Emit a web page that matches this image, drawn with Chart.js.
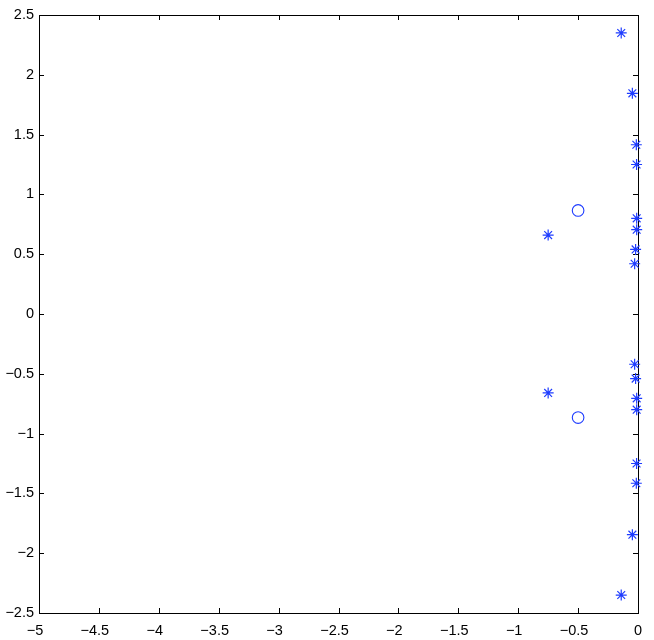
<!DOCTYPE html>
<html>
<head>
<meta charset="utf-8">
<script src="https://cdn.jsdelivr.net/npm/chart.js@4/dist/chart.umd.min.js"></script>
<style>
  html, body { margin: 0; padding: 0; background: #ffffff; }
  canvas { display: block; }
</style>
</head>
<body>
<canvas id="c" width="654" height="640"></canvas>
<script>
// Roots (asterisks) and zeros (circles)
const starX = [-0.14, -0.047, -0.014, -0.012, -0.011, -0.011, -0.75, -0.02, -0.028,
               -0.028, -0.02, -0.75, -0.011, -0.011, -0.012, -0.014, -0.047, -0.14];
const starY = [2.35, 1.845, 1.415, 1.25, 0.80, 0.705, 0.66, 0.54, 0.42,
               -0.42, -0.54, -0.66, -0.705, -0.80, -1.25, -1.415, -1.845, -2.35];
const circleX = [-0.5, -0.5];
const circleY = [0.866, -0.866];

const xTicks = [-5, -4.5, -4, -3.5, -3, -2.5, -2, -1.5, -1, -0.5, 0];
const yTicks = [-2.5, -2, -1.5, -1, -0.5, 0, 0.5, 1, 1.5, 2, 2.5];

const BLUE = 'rgb(30,60,255)';

function fmt(v) {
  const r = Math.round(v * 10) / 10;
  return String(r).replace('-', '\u2212');
}

const framePlugin = {
  id: 'frame',
  beforeDatasetsDraw(chart) {
    const { ctx, chartArea: a, scales } = chart;
    ctx.save();
    ctx.strokeStyle = '#000';
    ctx.lineWidth = 1;
    ctx.strokeRect(Math.round(a.left) + 0.5, Math.round(a.top) + 0.5,
                   Math.round(a.right - a.left), Math.round(a.bottom - a.top));
    const L = 5;
    ctx.beginPath();
    scales.x.ticks.forEach(t => {
      const px = Math.round(scales.x.getPixelForValue(t.value)) + 0.5;
      ctx.moveTo(px, a.bottom); ctx.lineTo(px, a.bottom - L);
      ctx.moveTo(px, a.top); ctx.lineTo(px, a.top + L);
    });
    scales.y.ticks.forEach(t => {
      const py = Math.round(scales.y.getPixelForValue(t.value)) + 0.5;
      ctx.moveTo(a.left, py); ctx.lineTo(a.left + L, py);
      ctx.moveTo(a.right, py); ctx.lineTo(a.right - L, py);
    });
    ctx.stroke();
    ctx.restore();
  }
};

new Chart(document.getElementById('c'), {
  type: 'scatter',
  data: {
    datasets: [
      {
        label: 'poles',
        data: starX.map((x, i) => ({ x: x, y: starY[i] })),
        pointStyle: 'star',
        pointRadius: 5.5,
        borderColor: BLUE,
        backgroundColor: BLUE,
        pointBorderWidth: 1.2,
        clip: false
      },
      {
        label: 'zeros',
        data: circleX.map((x, i) => ({ x: x, y: circleY[i] })),
        pointStyle: 'circle',
        pointRadius: 5.8,
        borderColor: BLUE,
        backgroundColor: 'rgba(0,0,0,0)',
        pointBorderWidth: 1.1,
        clip: false
      }
    ]
  },
  options: {
    responsive: false,
    animation: false,
    layout: { padding: { top: 15, right: 16, left: 0, bottom: 0 } },
    plugins: { legend: { display: false }, tooltip: { enabled: false } },
    scales: {
      x: {
        type: 'linear',
        min: -5, max: 0,
        afterBuildTicks: s => { s.ticks = xTicks.map(v => ({ value: v })); },
        afterFit: s => { s.height = 27; },
        grid: { display: false, drawTicks: false },
        border: { display: false },
        ticks: {
          padding: 9,
          color: '#000',
          font: { family: 'Liberation Sans, Arial, sans-serif', size: 14.5 },
          maxRotation: 0,
          autoSkip: false,
          callback: v => (v < 0 ? fmt(v) + '  ' : fmt(v))
        }
      },
      y: {
        type: 'linear',
        min: -2.5, max: 2.5,
        afterBuildTicks: s => { s.ticks = yTicks.map(v => ({ value: v })); },
        afterFit: s => { s.width = 39; },
        grid: { display: false, drawTicks: false },
        border: { display: false },
        ticks: {
          padding: 5,
          color: '#000',
          font: { family: 'Liberation Sans, Arial, sans-serif', size: 14.5 },
          autoSkip: false,
          callback: v => fmt(v)
        }
      }
    }
  },
  plugins: [framePlugin]
});
</script>
</body>
</html>
